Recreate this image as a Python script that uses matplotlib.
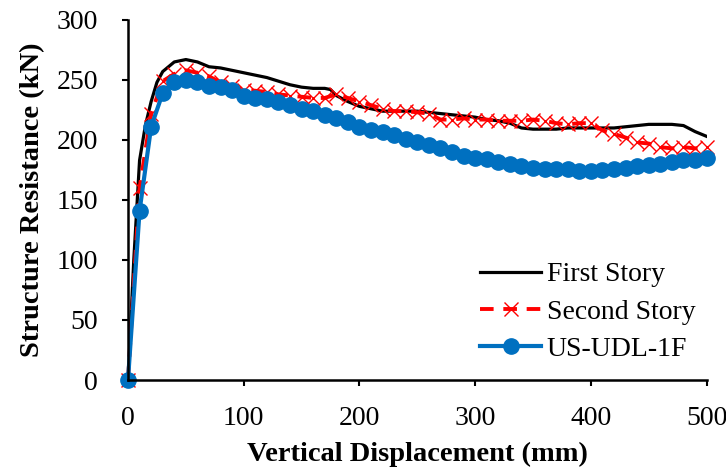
import matplotlib.pyplot as plt

# load-displacement curves (mm, kN)
first_x = [0, 5, 10, 15, 20, 25, 30, 40, 50, 60, 70, 80, 90, 100, 110, 120,
           130, 140, 150, 160, 170, 175, 180, 190, 200, 210, 220, 230, 240,
           250, 260, 270, 280, 290, 300, 310, 320, 330, 340, 350, 360, 370,
           380, 390, 400, 410, 420, 430, 440, 450, 460, 470, 480, 490, 500]
first_y = [0, 100, 183, 212, 232, 248, 257, 265, 267, 265, 261, 260, 258, 256,
           254, 252, 249, 246, 244, 243, 243, 242, 237, 232, 228, 226, 224,
           224, 224, 224, 223, 222, 221, 220, 219, 217, 216, 214, 210, 209,
           209, 209, 210, 210, 210, 210, 210, 211, 212, 213, 213, 213, 212,
           207, 203]

second_x = list(range(0, 510, 10))
second_y = [0, 160, 222, 249, 255, 258, 256, 253, 248, 245, 242, 241, 240, 238,
            237, 236, 235, 235, 238, 235, 232, 229, 226, 224, 224, 223, 222,
            217, 217, 218, 217, 217, 216, 216, 216, 217, 216, 214, 213, 214,
            214, 208, 205, 202, 198, 197, 194, 193, 194, 193, 194]

udl_x = list(range(0, 510, 10))
udl_y = [0, 141, 211, 239, 248, 250, 248, 245, 244, 242, 237, 235, 234, 232,
         229, 226, 224, 221, 218, 215, 211, 208, 207, 204, 201, 198, 196, 193,
         190, 187, 185, 184, 182, 180, 178, 177, 176, 176, 176, 174, 174, 175,
         176, 177, 178, 179, 180, 182, 183, 183, 185]


def resistance_plot():
    plt.rcParams['font.family'] = ['Liberation Serif', 'DejaVu Serif']
    fig = plt.figure(figsize=(7.26, 4.75), dpi=100)
    ax = fig.add_axes([0.1763, 0.2, 0.797, 0.758])

    ax.plot(first_x, first_y, color="black", linewidth=2.3, label="First Story")
    ax.plot(second_x, second_y, color="#FF0000", linewidth=2.8,
            linestyle=(0, (3.5, 2.5)), marker="x", markersize=10,
            markeredgewidth=1.0, label="Second Story", clip_on=False)
    ax.plot(udl_x, udl_y, color="#0070C0", linewidth=3.0, marker="o",
            markersize=11, label="US-UDL-1F", clip_on=False)

    ax.set_xlim(0, 500)
    ax.set_ylim(0, 300)
    ax.set_xticks(range(0, 501, 100))
    ax.set_yticks(range(0, 301, 50))

    for side in ["top", "right"]:
        ax.spines[side].set_visible(False)
    for side in ["left", "bottom"]:
        ax.spines[side].set_linewidth(1.8)
    ax.tick_params(direction="out", length=4.5, width=1.5, labelsize=20)
    ax.tick_params(axis="x", pad=14)
    ax.tick_params(axis="y", pad=17)

    ax.set_xlabel("Vertical Displacement (mm)", fontsize=20.5,
                  fontweight="bold", labelpad=8)
    ax.set_ylabel("Structure Resistance (kN)", fontsize=20.5,
                  fontweight="bold", labelpad=8)

    ax.legend(loc="lower right", bbox_to_anchor=(1.0, 0.02), frameon=False,
              fontsize=20, handlelength=2.2, borderaxespad=0.0,
              labelspacing=0.42, handletextpad=0.2)

    fig.savefig("out.png", dpi=100)


if __name__ == "__main__":
    resistance_plot()
